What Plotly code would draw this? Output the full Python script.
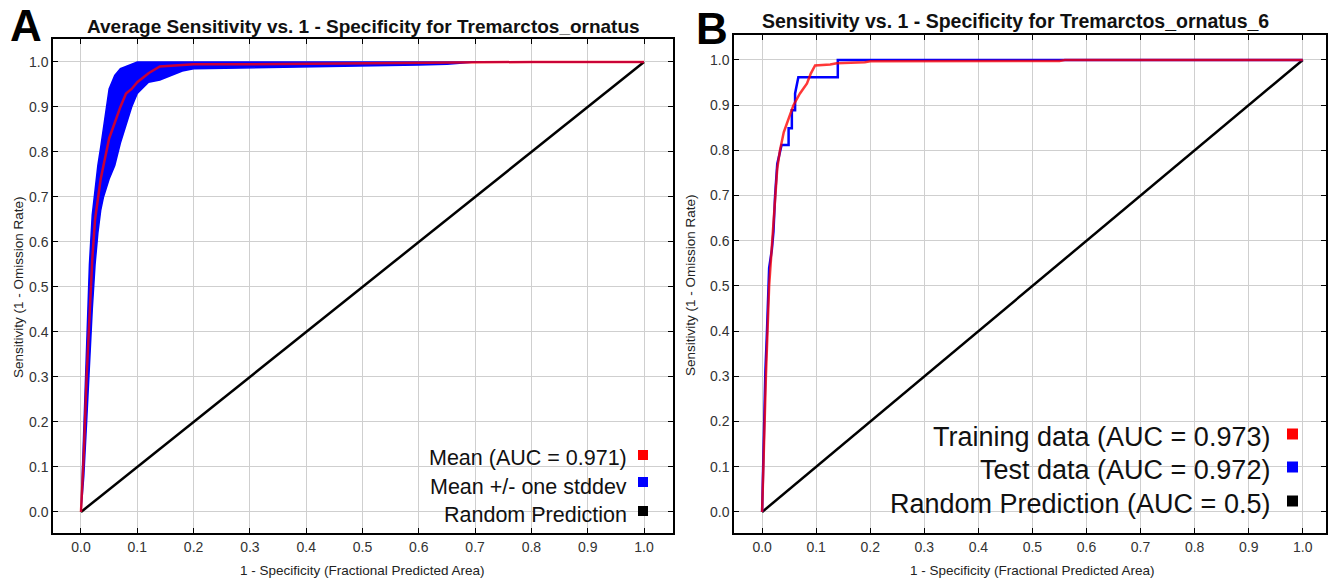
import plotly.graph_objects as go

# The page body adds an 8 px margin; the figure is sized to end at the window edge.
OFF = 8
W, H = 1338 - OFF, 583 - OFF

# ---------------- Data ----------------
# Panel A: average ROC (mean and +/- one stddev)
a_fpr = [0, 0.005, 0.01, 0.015, 0.02, 0.025, 0.03, 0.035, 0.04, 0.045, 0.05, 0.06, 0.07,
         0.08, 0.09, 0.10, 0.12, 0.14, 0.16, 0.18, 0.2, 0.3, 0.4, 0.5, 0.6, 0.65, 0.7, 0.8, 1.0]
a_mean = [0, 0.13, 0.30, 0.44, 0.56, 0.65, 0.70, 0.74, 0.77, 0.80, 0.83, 0.865, 0.90,
          0.93, 0.94, 0.955, 0.975, 0.99, 0.992, 0.994, 0.995, 0.995, 0.996, 0.997, 0.998, 0.999, 1.0, 1.0, 1.0]
a_upper = [0, 0.20, 0.40, 0.55, 0.66, 0.72, 0.77, 0.81, 0.85, 0.89, 0.94, 0.97, 0.985,
           0.99, 0.995, 1.0, 1.0, 1.0, 1.0, 1.0, 1.0, 1.0, 1.0, 1.0, 1.0, 1.0, 1.0, 1.0, 1.0]
a_lower = [0, 0.08, 0.20, 0.33, 0.45, 0.55, 0.62, 0.67, 0.70, 0.72, 0.74, 0.77, 0.82,
           0.86, 0.90, 0.93, 0.955, 0.96, 0.97, 0.98, 0.985, 0.987, 0.988, 0.99, 0.993, 0.995, 1.0, 1.0, 1.0]

# Panel B: training and test ROC
b_train_fpr = [0, 0.002, 0.004, 0.007, 0.010, 0.013, 0.017, 0.020, 0.024, 0.028, 0.033, 0.040,
               0.046, 0.058, 0.070, 0.083, 0.090, 0.098, 0.126, 0.138, 0.19, 0.2, 0.55, 0.56, 1.0]
b_train_tpr = [0, 0.10, 0.20, 0.30, 0.40, 0.50, 0.57, 0.62, 0.70, 0.76, 0.80, 0.84,
               0.86, 0.90, 0.926, 0.948, 0.97, 0.988, 0.99, 0.993, 0.995, 0.997, 0.998, 1.0, 1.0]
b_test_fpr = [0, 0.003, 0.006, 0.009, 0.012, 0.013, 0.018, 0.021, 0.024, 0.028, 0.036, 0.049,
              0.049, 0.055, 0.055, 0.061, 0.061, 0.067, 0.140, 0.140, 1.0]
b_test_tpr = [0, 0.19, 0.31, 0.40, 0.50, 0.54, 0.58, 0.62, 0.70, 0.77, 0.812, 0.812,
              0.849, 0.849, 0.889, 0.889, 0.926, 0.962, 0.962, 1.0, 1.0]

random_x = [0, 1]
random_y = [0, 1]

ticks = [round(i * 0.1, 1) for i in range(11)]
tick_text = [f"{t:.1f}" for t in ticks]

legend_a = ["Mean (AUC = 0.971)", "Mean +/- one stddev", "Random Prediction"]
legend_b = ["Training data (AUC = 0.973)", "Test data (AUC = 0.972)", "Random Prediction (AUC = 0.5)"]
legend_colors = ["#ff0000", "#0000ff", "#000000"]

title_a = "Average Sensitivity vs. 1 - Specificity for Tremarctos_ornatus"
title_b = "Sensitivity vs. 1 - Specificity for Tremarctos_ornatus_6"
xtitle = "1 - Specificity (Fractional Predicted Area)"
ytitle = "Sensitivity (1 - Omission Rate)"

# ---------------- Helpers (page pixels -> paper fraction) ----------------
def px(x):
    return (x - OFF) / W

def py(y):
    return 1 - (y - OFF) / H

RED = "rgba(255,0,0,0.78)"
BLUE = "#0000ff"
FONT = "Liberation Sans, Arial, sans-serif"

fig = go.Figure()

# Panel A
fig.add_trace(go.Scatter(x=random_x, y=random_y, mode="lines", line=dict(color="black", width=2.5),
                         xaxis="x", yaxis="y", showlegend=False))
fig.add_trace(go.Scatter(x=a_fpr, y=a_lower, mode="lines", line=dict(color=BLUE, width=1.5),
                         xaxis="x", yaxis="y", showlegend=False))
fig.add_trace(go.Scatter(x=a_fpr, y=a_upper, mode="lines", line=dict(color=BLUE, width=1.5),
                         fill="tonexty", fillcolor=BLUE, xaxis="x", yaxis="y", showlegend=False))
fig.add_trace(go.Scatter(x=a_fpr, y=a_mean, mode="lines", line=dict(color=RED, width=2.5),
                         xaxis="x", yaxis="y", showlegend=False))

# Panel B
fig.add_trace(go.Scatter(x=random_x, y=random_y, mode="lines", line=dict(color="black", width=2.5),
                         xaxis="x2", yaxis="y2", showlegend=False))
fig.add_trace(go.Scatter(x=b_test_fpr, y=b_test_tpr, mode="lines", line=dict(color=BLUE, width=2.5),
                         xaxis="x2", yaxis="y2", showlegend=False))
fig.add_trace(go.Scatter(x=b_train_fpr, y=b_train_tpr, mode="lines", line=dict(color=RED, width=2.5),
                         xaxis="x2", yaxis="y2", showlegend=False))

axis_common = dict(
    showline=True, linecolor="black", linewidth=1.5, mirror="ticks",
    ticks="inside", ticklen=5, tickcolor="black", tickwidth=1,
    showgrid=True, gridcolor="#cfcfcf", gridwidth=1, zeroline=False,
    tickvals=ticks, ticktext=tick_text,
    tickfont=dict(family=FONT, size=14, color="#333333"),
    fixedrange=True,
)

fig.update_layout(
    width=W, height=H,
    margin=dict(l=0, r=0, t=0, b=0),
    paper_bgcolor="white", plot_bgcolor="white",
    showlegend=False,
    xaxis=dict(domain=[px(53), px(673)], range=[-0.0497, 1.0515], anchor="y", **axis_common),
    yaxis=dict(domain=[py(533), py(39)], range=[-0.0467, 1.051], anchor="x", **axis_common),
    xaxis2=dict(domain=[px(734), px(1326)], range=[-0.052, 1.043], anchor="y2", **axis_common),
    yaxis2=dict(domain=[py(533), py(35)], range=[-0.0465, 1.0553], anchor="x2", **axis_common),
)

annotations = []
shapes = []

def text(x, y, s, size, bold=False, angle=0, xanchor="center", yanchor="middle", color="black"):
    if bold:
        s = f"<b>{s}</b>"
    annotations.append(dict(x=px(x), y=py(y), xref="paper", yref="paper", text=s, showarrow=False,
                            xanchor=xanchor, yanchor=yanchor, textangle=angle, borderpad=0,
                            font=dict(family=FONT, size=size, color=color)))

# Panel letters
text(26, 26, "A", 44, bold=True)
text(712, 28, "B", 44, bold=True)

# Titles
text(363, 27, title_a, 19, bold=True, color="#111111")
text(1015, 21, title_b, 19.5, bold=True, color="#111111")

# Axis titles
text(362, 570, xtitle, 13.5, color="#222222")
text(1032, 570, xtitle, 13.5, color="#222222")
text(18, 287, ytitle, 13.5, angle=-90, color="#222222")
text(690, 285, ytitle, 13.5, angle=-90, color="#222222")

# Legends
for lab, ty, sy, col in zip(legend_a, [458, 487, 515], [455, 482, 511], legend_colors):
    text(628, ty, lab, 21.5, xanchor="right", color="#111111")
    shapes.append(dict(type="rect", xref="paper", yref="paper",
                       x0=px(638), x1=px(648), y0=py(sy + 5), y1=py(sy - 5),
                       fillcolor=col, line=dict(width=0)))
for lab, ty, sy, col in zip(legend_b, [437, 470, 504], [434, 467, 501], legend_colors):
    text(1271, ty, lab, 27, xanchor="right", color="#111111")
    shapes.append(dict(type="rect", xref="paper", yref="paper",
                       x0=px(1287), x1=px(1298), y0=py(sy + 5.5), y1=py(sy - 5.5),
                       fillcolor=col, line=dict(width=0)))

fig.update_layout(annotations=annotations, shapes=shapes)

fig.write_html("out.html")
